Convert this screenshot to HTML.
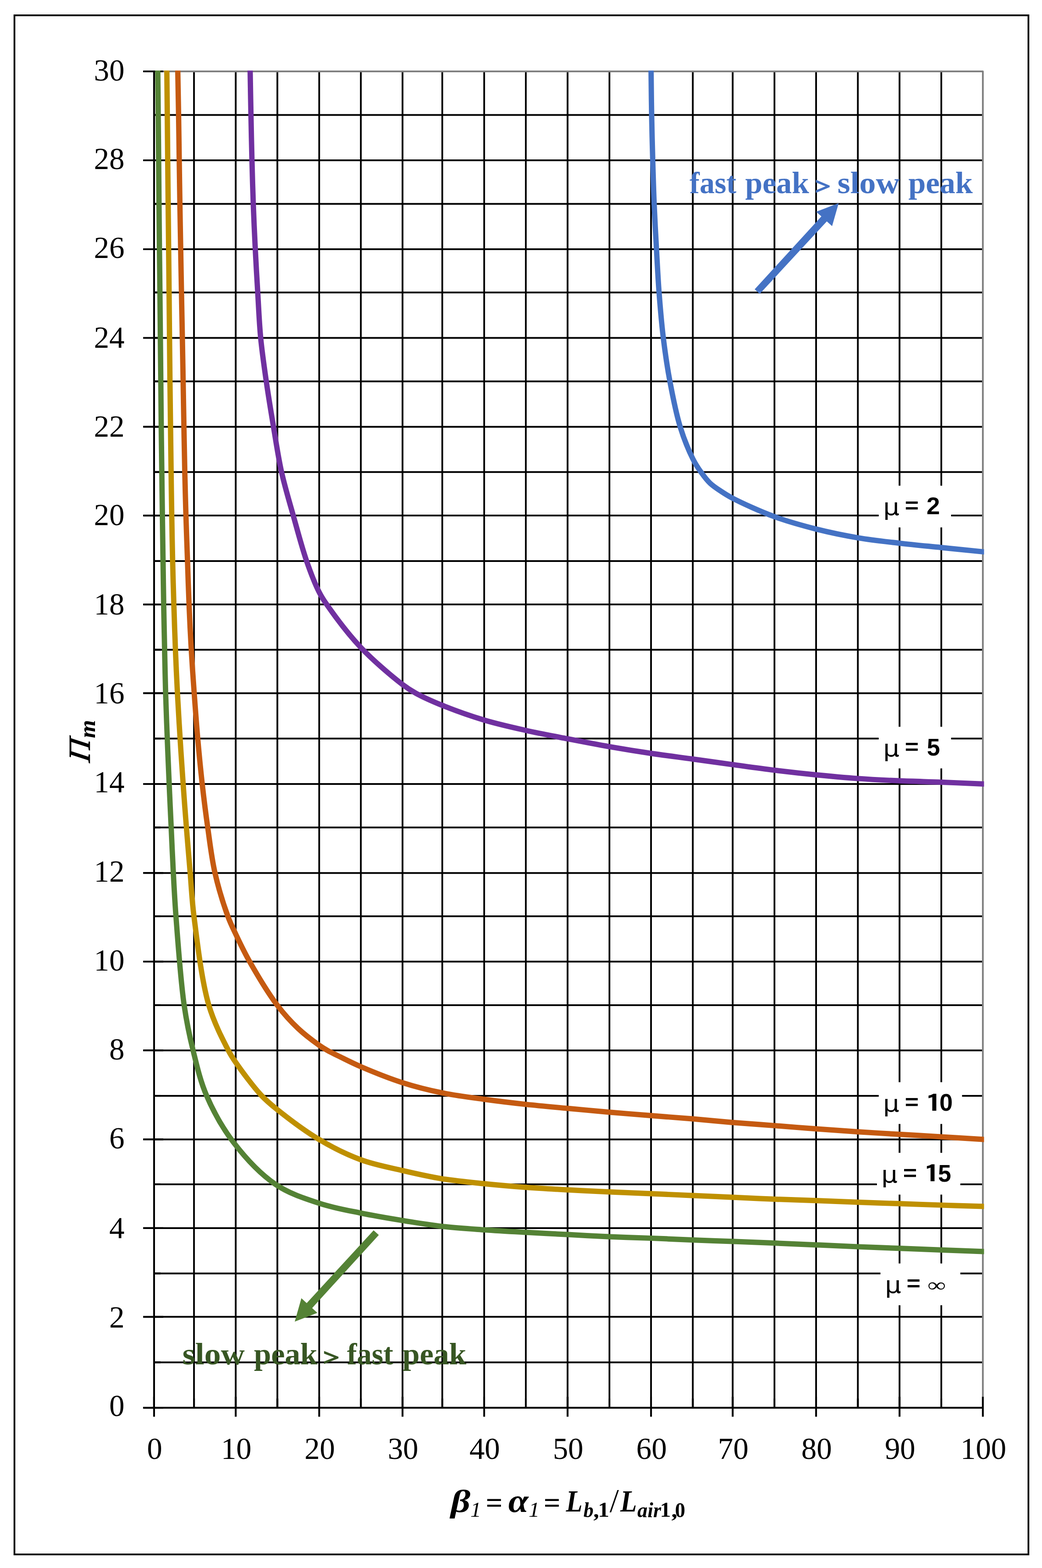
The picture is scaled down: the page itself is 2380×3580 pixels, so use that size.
<!DOCTYPE html>
<html lang="en"><head><meta charset="utf-8"><title>Pi_m versus beta_1 chart</title>
<style>html,body{margin:0;padding:0;background:#fff}svg{display:block}</style></head><body>
<svg width="2380" height="3580" viewBox="0 0 2380 3580" role="img" aria-label="Chart of Pi m versus beta 1 for several values of mu">
<rect x="0" y="0" width="2380" height="3580" fill="#fff"/>
<rect x="33" y="35" width="2316" height="3514" fill="none" stroke="#000" stroke-width="4"/>
<g stroke="#000" stroke-width="4.0" fill="none">
<path d="M351.9 3110.4H2243.4"/>
<path d="M351.9 3006.6H2243.4"/>
<path d="M351.9 2907.4H2243.4"/>
<path d="M351.9 2803.9H2243.4"/>
<path d="M351.9 2703.9H2243.4"/>
<path d="M351.9 2601.4H2243.4"/>
<path d="M351.9 2502H2243.4"/>
<path d="M351.9 2398.2H2243.4"/>
<path d="M351.9 2294.9H2243.4"/>
<path d="M351.9 2195.5H2243.4"/>
<path d="M351.9 2092H2243.4"/>
<path d="M351.9 1993.2H2243.4"/>
<path d="M351.9 1889.2H2243.4"/>
<path d="M351.9 1790H2243.4"/>
<path d="M351.9 1686.2H2243.4"/>
<path d="M351.9 1582.7H2243.4"/>
<path d="M351.9 1483.4H2243.4"/>
<path d="M351.9 1380.1H2243.4"/>
<path d="M351.9 1280.9H2243.4"/>
<path d="M351.9 1177.1H2243.4"/>
<path d="M351.9 1077.7H2243.4"/>
<path d="M351.9 974.4H2243.4"/>
<path d="M351.9 870.7H2243.4"/>
<path d="M351.9 771.5H2243.4"/>
<path d="M351.9 667.7H2243.4"/>
<path d="M351.9 569H2243.4"/>
<path d="M351.9 465.6H2243.4"/>
<path d="M351.9 366H2243.4"/>
<path d="M351.9 262.4H2243.4"/>
<path d="M443.1 164.5V3214.1"/>
<path d="M538.4 164.5V3214.1"/>
<path d="M633.5 164.5V3214.1"/>
<path d="M729.1 164.5V3214.1"/>
<path d="M824.2 164.5V3214.1"/>
<path d="M919.4 164.5V3214.1"/>
<path d="M1010.2 164.5V3214.1"/>
<path d="M1105.9 164.5V3214.1"/>
<path d="M1201 164.5V3214.1"/>
<path d="M1296.4 164.5V3214.1"/>
<path d="M1392 164.5V3214.1"/>
<path d="M1487 164.5V3214.1"/>
<path d="M1582.4 164.5V3214.1"/>
<path d="M1673.5 164.5V3214.1"/>
<path d="M1768.9 164.5V3214.1"/>
<path d="M1864 164.5V3214.1"/>
<path d="M1959.4 164.5V3214.1"/>
<path d="M2054.6 164.5V3214.1"/>
<path d="M2150 164.5V3214.1"/>
</g>
<path d="M351.9 163H2244.9V3214.1" fill="none" stroke="#808080" stroke-width="4" stroke-linejoin="round"/>
<g stroke="#000" stroke-width="4.2" fill="none">
<path d="M351.9 161V3216.1"/>
<path d="M326.9 3214.1H2247"/>
<path d="M326.9 3214.1H372.9"/>
<path d="M326.9 3006.6H372.9"/>
<path d="M326.9 2803.9H372.9"/>
<path d="M326.9 2601.4H372.9"/>
<path d="M326.9 2398.2H372.9"/>
<path d="M326.9 2195.5H372.9"/>
<path d="M326.9 1993.2H372.9"/>
<path d="M326.9 1790H372.9"/>
<path d="M326.9 1582.7H372.9"/>
<path d="M326.9 1380.1H372.9"/>
<path d="M326.9 1177.1H372.9"/>
<path d="M326.9 974.4H372.9"/>
<path d="M326.9 771.5H372.9"/>
<path d="M326.9 569H372.9"/>
<path d="M326.9 366H372.9"/>
<path d="M326.9 163H372.9"/>
<path d="M351.9 3110.4H366.9"/>
<path d="M351.9 2907.4H366.9"/>
<path d="M351.9 2703.9H366.9"/>
<path d="M351.9 2502H366.9"/>
<path d="M351.9 2294.9H366.9"/>
<path d="M351.9 2092H366.9"/>
<path d="M351.9 1889.2H366.9"/>
<path d="M351.9 1686.2H366.9"/>
<path d="M351.9 1483.4H366.9"/>
<path d="M351.9 1280.9H366.9"/>
<path d="M351.9 1077.7H366.9"/>
<path d="M351.9 870.7H366.9"/>
<path d="M351.9 667.7H366.9"/>
<path d="M351.9 465.6H366.9"/>
<path d="M351.9 262.4H366.9"/>
<path d="M351.9 3189.1V3234.6"/>
<path d="M538.4 3189.1V3234.6"/>
<path d="M729.1 3189.1V3234.6"/>
<path d="M919.4 3189.1V3234.6"/>
<path d="M1105.9 3189.1V3234.6"/>
<path d="M1296.4 3189.1V3234.6"/>
<path d="M1487 3189.1V3234.6"/>
<path d="M1673.5 3189.1V3234.6"/>
<path d="M1864 3189.1V3234.6"/>
<path d="M2054.6 3189.1V3234.6"/>
<path d="M2244.9 3189.1V3234.6"/>
<path d="M443.1 3193.1V3214.1"/>
<path d="M633.5 3193.1V3214.1"/>
<path d="M824.2 3193.1V3214.1"/>
<path d="M1010.2 3193.1V3214.1"/>
<path d="M1201 3193.1V3214.1"/>
<path d="M1392 3193.1V3214.1"/>
<path d="M1582.4 3193.1V3214.1"/>
<path d="M1768.9 3193.1V3214.1"/>
<path d="M1959.4 3193.1V3214.1"/>
<path d="M2150 3193.1V3214.1"/>
</g>
<rect x="2007" y="1108.9" width="165.4" height="95.3" fill="#fff"/>
<rect x="2007" y="1659.4" width="165.4" height="95" fill="#fff"/>
<rect x="2007.1" y="2470.8" width="190.3" height="95.4" fill="#fff"/>
<rect x="2002.9" y="2632.1" width="190.6" height="95.4" fill="#fff"/>
<rect x="2011" y="2884.7" width="182.5" height="95.4" fill="#fff"/>
<g font-family="Liberation Serif, serif" font-size="69.8" text-anchor="end">
<text x="284.4" y="183.6">30</text>
<text x="284.4" y="386.3">28</text>
<text x="284.4" y="588.8">26</text>
<text x="284.4" y="793.8">24</text>
<text x="284.4" y="996.5">22</text>
<text x="284.4" y="1199.4">20</text>
<text x="284.4" y="1402.7">18</text>
<text x="284.4" y="1606">16</text>
<text x="284.4" y="1809.3">14</text>
<text x="284.4" y="2013.2">12</text>
<text x="284.4" y="2216.2">10</text>
<text x="284.4" y="2418.7">8</text>
<text x="284.4" y="2622.3">6</text>
<text x="284.4" y="2827">4</text>
<text x="284.4" y="3030.5">2</text>
<text x="284.4" y="3233.3">0</text>
</g>
<g font-family="Liberation Serif, serif" font-size="69.8" text-anchor="middle">
<text x="353.1" y="3330.6">0</text>
<text x="539.6" y="3330.6">10</text>
<text x="730.3" y="3330.6">20</text>
<text x="920.6" y="3330.6">30</text>
<text x="1107.1" y="3330.6">40</text>
<text x="1297.6" y="3330.6">50</text>
<text x="1488.2" y="3330.6">60</text>
<text x="1674.7" y="3330.6">70</text>
<text x="1865.2" y="3330.6">80</text>
<text x="2055.8" y="3330.6">90</text>
<text x="2246.1" y="3330.6">100</text>
</g>
<text transform="matrix(0.6859 0 0 0.6900 1575.09 441.3)" font-family="Liberation Serif, serif" font-size="100" font-weight="bold" fill="#4472C4">fast</text>
<text transform="matrix(0.7104 0 0 0.6900 1702.01 441.3)" font-family="Liberation Serif, serif" font-size="100" font-weight="bold" fill="#4472C4">peak</text>
<text transform="matrix(0.6280 0 0 0.5320 1861.46 443.39)" font-family="Liberation Serif, serif" font-size="100" font-weight="bold" fill="#4472C4" stroke="#4472C4" stroke-width="3.5" stroke-linejoin="miter">&gt;</text>
<text transform="matrix(0.7531 0 0 0.6900 1912.64 441.3)" font-family="Liberation Serif, serif" font-size="100" font-weight="bold" fill="#4472C4">slow</text>
<text transform="matrix(0.7148 0 0 0.6900 2074.71 441.3)" font-family="Liberation Serif, serif" font-size="100" font-weight="bold" fill="#4472C4">peak</text>
<text transform="matrix(0.7531 0 0 0.6900 416.54 3115.1)" font-family="Liberation Serif, serif" font-size="100" font-weight="bold" fill="#375623">slow</text>
<text transform="matrix(0.7060 0 0 0.6900 579.92 3115.1)" font-family="Liberation Serif, serif" font-size="100" font-weight="bold" fill="#375623">peak</text>
<text transform="matrix(0.6581 0 0 0.5320 737.91 3117.19)" font-family="Liberation Serif, serif" font-size="100" font-weight="bold" fill="#375623" stroke="#375623" stroke-width="3.5" stroke-linejoin="miter">&gt;</text>
<text transform="matrix(0.6801 0 0 0.6900 792.39 3115.1)" font-family="Liberation Serif, serif" font-size="100" font-weight="bold" fill="#375623">fast</text>
<text transform="matrix(0.7109 0 0 0.6900 919.11 3115.1)" font-family="Liberation Serif, serif" font-size="100" font-weight="bold" fill="#375623">peak</text>
<text transform="matrix(0.5839 0 0 0.5285 2017.14 1175.93)" font-family="DejaVu Sans, sans-serif" font-size="100">μ</text>
<text transform="matrix(0.5420 0 0 0.4821 2066.8 1170.87)" font-family="Liberation Sans, sans-serif" font-size="100" font-weight="bold">=</text>
<text transform="matrix(0.5500 0 0 0.5530 2116.27 1173.9)" font-family="Liberation Sans, sans-serif" font-size="100" font-weight="bold">2</text>
<text transform="matrix(0.5839 0 0 0.5285 2017.14 1727.13)" font-family="DejaVu Sans, sans-serif" font-size="100">μ</text>
<text transform="matrix(0.5420 0 0 0.4821 2066.8 1722.07)" font-family="Liberation Sans, sans-serif" font-size="100" font-weight="bold">=</text>
<text transform="matrix(0.5414 0 0 0.5530 2117.04 1725.1)" font-family="Liberation Sans, sans-serif" font-size="100" font-weight="bold">5</text>
<text transform="matrix(0.5839 0 0 0.5285 2017.04 2538.03)" font-family="DejaVu Sans, sans-serif" font-size="100">μ</text>
<text transform="matrix(0.5420 0 0 0.4821 2066.7 2532.97)" font-family="Liberation Sans, sans-serif" font-size="100" font-weight="bold">=</text>
<text transform="matrix(0.8138 0 0 0.5270 2112.46 2537.84)" font-family="IPAGothic, sans-serif" font-size="100" font-weight="bold">1</text>
<text transform="matrix(0.5453 0 0 0.5530 2145.72 2536)" font-family="Liberation Sans, sans-serif" font-size="100" font-weight="bold">0</text>
<text transform="matrix(0.5839 0 0 0.5285 2013.04 2699.63)" font-family="DejaVu Sans, sans-serif" font-size="100">μ</text>
<text transform="matrix(0.5420 0 0 0.4821 2062.7 2694.57)" font-family="Liberation Sans, sans-serif" font-size="100" font-weight="bold">=</text>
<text transform="matrix(0.8046 0 0 0.5270 2108.75 2699.44)" font-family="IPAGothic, sans-serif" font-size="100" font-weight="bold">1</text>
<text transform="matrix(0.5394 0 0 0.5530 2142.55 2697.6)" font-family="Liberation Sans, sans-serif" font-size="100" font-weight="bold">5</text>
<text transform="matrix(0.5839 0 0 0.5285 2021.24 2951.93)" font-family="DejaVu Sans, sans-serif" font-size="100">μ</text>
<text transform="matrix(0.5420 0 0 0.4821 2070.8 2946.87)" font-family="Liberation Sans, sans-serif" font-size="100" font-weight="bold">=</text>
<text transform="matrix(0.5898 0 0 0.4421 2118.59 2949.02)" font-family="Liberation Serif, serif" font-size="100">∞</text>
<text transform="matrix(0.8800 0 0 0.7226 1029.44 3451.64)" font-family="Liberation Serif, serif" font-size="100" font-weight="bold" font-style="italic">β</text>
<text transform="matrix(0.4979 0 0 0.4773 1074.26 3463.2)" font-family="Liberation Serif, serif" font-size="100" font-style="italic">1</text>
<text transform="matrix(0.6753 0 0 0.6630 1109.52 3452.99)" font-family="Liberation Serif, serif" font-size="100" font-weight="bold">=</text>
<text transform="matrix(0.8308 0 0 0.7544 1161.06 3452.35)" font-family="Liberation Serif, serif" font-size="100" font-weight="bold" font-style="italic">α</text>
<text transform="matrix(0.5091 0 0 0.4773 1207.22 3463.2)" font-family="Liberation Serif, serif" font-size="100" font-style="italic">1</text>
<text transform="matrix(0.6731 0 0 0.6630 1241.63 3452.99)" font-family="Liberation Serif, serif" font-size="100" font-weight="bold">=</text>
<text transform="matrix(0.6183 0 0 0.7069 1292.86 3451.2)" font-family="Liberation Serif, serif" font-size="100" font-weight="bold" font-style="italic">L</text>
<text transform="matrix(0.4590 0 0 0.4894 1332.63 3463.71)" font-family="Liberation Serif, serif" font-size="100" font-weight="bold" font-style="italic">b</text>
<text transform="matrix(0.5474 0 0 0.4760 1357.33 3463.52)" font-family="Liberation Serif, serif" font-size="100" font-weight="bold" font-style="italic">,</text>
<text transform="matrix(0.5197 0 0 0.4773 1365.74 3463.2)" font-family="Liberation Serif, serif" font-size="100" font-weight="bold">1</text>
<text transform="matrix(0.5091 0 0 0.7627 1395.55 3452.34)" font-family="Liberation Serif, serif" font-size="100" font-weight="bold" font-style="italic">/</text>
<text transform="matrix(0.6218 0 0 0.7069 1416.67 3451.2)" font-family="Liberation Serif, serif" font-size="100" font-weight="bold" font-style="italic">L</text>
<text transform="matrix(0.4654 0 0 0.4769 1455.82 3463.72)" font-family="Liberation Serif, serif" font-size="100" font-weight="bold" font-style="italic">air</text>
<text transform="matrix(0.4952 0 0 0.4773 1507.54 3463.2)" font-family="Liberation Serif, serif" font-size="100" font-weight="bold">1</text>
<text transform="matrix(0.5737 0 0 0.4760 1535.39 3463.52)" font-family="Liberation Serif, serif" font-size="100" font-weight="bold" font-style="italic">,</text>
<text transform="matrix(0.4682 0 0 0.4770 1541.84 3463.72)" font-family="Liberation Serif, serif" font-size="100" font-weight="bold">0</text>
<text transform="matrix(0 -0.7315 0.6977 0.0951 205.1 1741.85)" font-family="Liberation Serif, serif" font-size="100" font-style="italic" stroke="#000" stroke-width="1.6">Π</text>
<text transform="matrix(0 -0.5338 0.5191 0.0000 217.1 1685.27)" font-family="Liberation Serif, serif" font-size="100" font-weight="bold" font-style="italic">m</text>
<polygon fill="#4472C4" points="1915.6,463.7 1864.2,483.4 1876.1,494.1 1723.7,660.5 1735.3,671 1888.5,505.5 1900.6,516.3"/>
<polygon fill="#548235" points="673.2,3017.4 688.4,2964.1 700.5,2975.2 853.4,2809 865.2,2819.8 713,2986.4 724.9,2997.5"/>
<clipPath id="pc"><rect x="349.9" y="161" width="1897.7" height="3055.1"/></clipPath>
<g clip-path="url(#pc)" fill="none" stroke-width="12.2" stroke-linejoin="round">
<path stroke="#4472C4" d="M1486.9 140C1486.97 147.67 1486.99 152.65 1487.1 163C1487.33 184.47 1487.78 228.58 1488.4 262C1489.04 296.29 1489.93 331.96 1490.9 366.2C1491.84 399.5 1492.7 431.33 1494.1 464.7C1495.55 499.22 1497.58 535.53 1499.5 570C1501.35 603.28 1502.86 635.04 1505.4 668.1C1508 701.99 1510.85 736.95 1515 770.9C1519.1 804.47 1523.8 837.25 1530.1 870.7C1536.56 905 1543.87 942.99 1553.5 974.2C1561.81 1001.11 1573.11 1028.79 1582.5 1047.6C1588.79 1060.2 1594.29 1068.36 1601 1077.8C1607.49 1086.92 1614.13 1095.95 1622 1103.4C1629.7 1110.7 1638.91 1116.43 1647.6 1122.2C1656.05 1127.81 1661.84 1131.63 1673.4 1137.6C1694.92 1148.71 1736.53 1167.79 1768.7 1179.6C1800.18 1191.16 1832.25 1199.92 1864.3 1208C1896.03 1216 1928.06 1222.52 1960 1227.9C1991.6 1233.23 2023.24 1236.5 2054.9 1240.2C2086.51 1243.9 2118.15 1246.83 2149.8 1250.1C2181.48 1253.37 2224.93 1257.79 2244.9 1259.8C2254.08 1260.72 2258.3 1261.13 2265 1261.8"/>
<path stroke="#7030A0" d="M571.1 140C571.2 147.67 571.24 152.65 571.4 163C571.74 184.49 572.53 228.76 573.2 262.2C573.89 296.41 574.61 331.74 575.5 366C576.38 399.6 577.25 432.25 578.5 465.8C579.77 499.94 581.38 535.06 583.1 569.1C584.79 602.41 586.68 634.59 588.7 667.9C590.77 702 592.1 737.31 595.4 771.4C598.64 804.89 603.39 837.28 608.2 870.7C613.13 904.93 618.89 939.88 624.7 974.4C630.52 1008.94 635.5 1043.89 643.1 1077.9C650.63 1111.61 660.58 1144.12 670 1177.6C679.62 1211.78 689.53 1249.91 700.3 1280.9C709.39 1307.05 719.93 1333.98 729 1352C734.95 1363.81 737.89 1368.22 746.2 1380.1C762.43 1403.32 795.59 1448.18 824.4 1478.6C853.39 1509.21 896.29 1545.27 919.7 1563.1C932.17 1572.6 937.88 1576.13 950 1582.8C966.43 1591.84 987.72 1601.34 1010.4 1610.5C1038.42 1621.81 1074.04 1634.53 1106.1 1644.1C1137.58 1653.5 1169.24 1660.48 1201 1667.6C1232.7 1674.71 1264.65 1680.61 1296.5 1686.8C1328.29 1692.98 1360.06 1699.14 1391.9 1704.7C1423.66 1710.24 1455.47 1715.36 1487.3 1720.1C1519.07 1724.83 1551.3 1728.78 1582.7 1733.1C1613.34 1737.31 1642.84 1741.52 1673.5 1745.7C1704.95 1749.99 1737.25 1754.59 1769.1 1758.5C1800.82 1762.39 1832.46 1765.93 1864.2 1769.1C1895.96 1772.27 1927.81 1775.23 1959.6 1777.5C1991.28 1779.76 2022.86 1781.3 2054.6 1782.7C2086.46 1784.1 2118.58 1784.71 2150.4 1785.9C2182.01 1787.08 2225.02 1788.99 2244.9 1789.8C2254.07 1790.17 2258.3 1790.33 2265 1790.6"/>
<path stroke="#C55A11" d="M405.8 140C405.9 147.67 405.94 152.65 406.1 163C406.44 184.49 407.35 228.76 407.9 262.2C408.46 296.41 408.89 331.74 409.4 366C409.9 399.59 410.36 432.25 410.9 465.8C411.45 499.94 412.09 535.05 412.7 569.1C413.29 602.4 413.87 634.58 414.5 667.9C415.14 702 415.86 737.26 416.5 771.4C417.13 804.84 417.71 837.23 418.3 870.7C418.91 904.92 419.47 939.96 420.1 974.5C420.73 1008.93 421.33 1043.52 422.1 1077.6C422.86 1111.11 423.68 1143.73 424.7 1177.3C425.74 1211.55 427.1 1246.91 428.3 1281.1C429.47 1314.49 430.39 1346.75 431.8 1380.1C433.24 1414.17 434.91 1449.3 436.9 1483.4C438.85 1516.89 441.16 1549.39 443.6 1582.9C446.09 1617.14 448.65 1652.16 451.7 1686.7C454.75 1721.19 458.06 1755.92 461.9 1790C465.67 1823.5 469.71 1856.06 474.5 1889.5C479.39 1923.65 483.31 1958.97 491 1992.8C498.64 2026.43 510.82 2065.89 520.4 2091.9C526.87 2109.47 532.15 2119.52 539.5 2135C548.32 2153.57 557.49 2173.15 570.2 2195.5C586.98 2225 612.78 2268.05 633.5 2295.4C649.56 2316.61 664.45 2332.7 681 2348.3C696.38 2362.79 716.49 2377.63 729 2386.5C736.53 2391.83 740.74 2394.32 747.8 2398.3C756.37 2403.13 766.06 2407.65 777 2413C790.86 2419.78 805.67 2427.48 824.4 2435.5C850.6 2446.72 888.46 2462.09 920.2 2472.2C950.44 2481.83 979.73 2489.05 1010.4 2495.3C1041.67 2501.67 1074.19 2505.53 1106.1 2509.9C1137.89 2514.26 1169.69 2518.05 1201.5 2521.5C1233.25 2524.95 1265.02 2527.63 1296.8 2530.6C1328.59 2533.57 1360.4 2536.53 1392.2 2539.3C1423.97 2542.07 1455.69 2544.65 1487.5 2547.2C1519.39 2549.75 1551.83 2551.94 1583.3 2554.6C1613.91 2557.19 1643.23 2560.36 1673.8 2562.9C1705.15 2565.5 1737.33 2567.58 1769.1 2570C1800.89 2572.42 1832.7 2575.05 1864.5 2577.4C1896.27 2579.75 1928.05 2582.01 1959.8 2584.1C1991.49 2586.18 2023.11 2588 2054.8 2589.9C2086.54 2591.8 2118.38 2593.58 2150.1 2595.5C2181.74 2597.41 2224.97 2600.19 2244.9 2601.4C2254.07 2601.96 2258.3 2602.2 2265 2602.6"/>
<path stroke="#BF9000" d="M381 140C381.03 147.67 381.03 152.65 381.1 163C381.26 184.49 381.77 228.76 382.1 262.2C382.44 296.41 382.76 331.74 383.1 366C383.43 399.59 383.75 432.25 384.1 465.8C384.45 499.94 384.85 535.05 385.2 569.1C385.55 602.4 385.87 634.58 386.2 667.9C386.54 702 386.86 737.26 387.2 771.4C387.53 804.84 387.82 837.23 388.2 870.7C388.59 904.92 389.07 939.96 389.5 974.5C389.93 1008.92 390.33 1043.52 390.8 1077.6C391.26 1111.11 391.72 1143.73 392.3 1177.3C392.89 1211.55 393.49 1246.91 394.3 1281.1C395.09 1314.49 396.05 1346.75 397.1 1380.1C398.18 1414.17 399.32 1449.29 400.7 1483.4C402.06 1516.88 403.54 1549.39 405.3 1582.9C407.1 1617.14 409.23 1652.15 411.4 1686.7C413.56 1721.18 415.88 1755.89 418.3 1790C420.68 1823.48 423.15 1856.03 425.8 1889.5C428.51 1923.62 431.5 1958.73 434.4 1992.8C437.24 2026.18 438.09 2053.13 443 2091.9C450.07 2147.66 460.54 2239.28 476.9 2294.8C489 2335.86 509.49 2374.97 521.5 2398.1C527.92 2410.46 530.61 2414.38 538.3 2425.5C551.52 2444.62 578.47 2481.17 596.5 2500.5C609.52 2514.46 617.79 2521.02 633.4 2533.5C657.45 2552.74 696.39 2582.39 729.1 2601.8C760.14 2620.22 791.99 2636.1 824.4 2648C855.73 2659.5 888.66 2665.37 920.2 2672.7C950.63 2679.77 979.78 2686.44 1010.4 2691.4C1041.72 2696.47 1074.2 2699.35 1106.1 2702.6C1137.9 2705.84 1169.69 2708.55 1201.5 2710.9C1233.26 2713.25 1265.02 2714.97 1296.8 2716.7C1328.59 2718.43 1360.41 2719.85 1392.2 2721.3C1423.97 2722.75 1455.69 2724.02 1487.5 2725.4C1519.39 2726.79 1551.82 2728.2 1583.3 2729.6C1613.9 2730.96 1643.24 2732.33 1673.8 2733.7C1705.16 2735.1 1737.32 2736.65 1769.1 2737.9C1800.89 2739.15 1832.71 2740.03 1864.5 2741.2C1896.28 2742.37 1928.06 2743.73 1959.8 2744.9C1991.49 2746.07 2023.11 2747.1 2054.8 2748.2C2086.54 2749.3 2118.37 2750.47 2150.1 2751.5C2181.74 2752.53 2224.97 2753.8 2244.9 2754.4C2254.08 2754.68 2258.3 2754.8 2265 2755"/>
<path stroke="#548235" d="M360.3 140C360.33 147.67 360.33 152.65 360.4 163C360.56 184.49 361.07 228.76 361.4 262.2C361.74 296.41 362.1 331.74 362.4 366C362.7 399.59 362.9 432.25 363.2 465.8C363.5 499.94 363.85 535.05 364.2 569.1C364.55 602.4 364.95 634.58 365.3 667.9C365.65 702 365.96 737.26 366.3 771.4C366.63 804.84 366.97 837.23 367.3 870.7C367.64 904.92 367.92 939.96 368.3 974.5C368.68 1008.93 369.16 1043.52 369.6 1077.6C370.03 1111.11 370.44 1143.73 370.9 1177.3C371.37 1211.55 371.89 1246.91 372.4 1281.1C372.89 1314.49 373.31 1346.75 373.9 1380.1C374.5 1414.17 375.26 1449.29 376 1483.4C376.73 1516.88 377.3 1549.39 378.3 1582.9C379.32 1617.14 380.75 1652.14 382.1 1686.7C383.45 1721.18 384.9 1755.91 386.4 1790C387.87 1823.43 389.43 1855.86 391 1889.3C392.6 1923.44 394.06 1958.68 395.9 1992.8C397.7 2026.2 398.93 2053.04 401.9 2091.9C406.15 2147.57 412.49 2238.65 420.6 2294.8C426.43 2335.17 432.55 2363.92 441 2398.1C449.52 2432.59 457.09 2467.03 471.6 2500.8C487.19 2537.1 507.84 2574.88 533.3 2608.1C559.97 2642.9 594.66 2680.49 629.4 2704.1C660.47 2725.21 695.75 2736.25 729.1 2747.3C760.76 2757.79 792.5 2763.13 824.4 2769.7C856.2 2776.25 888.71 2781.59 920.2 2786.7C950.68 2791.65 979.83 2796.49 1010.4 2800C1041.77 2803.6 1074.21 2805.61 1106.1 2807.9C1137.91 2810.18 1169.7 2811.9 1201.5 2813.7C1233.27 2815.5 1265.02 2817.03 1296.8 2818.7C1328.59 2820.37 1360.4 2822.32 1392.2 2823.7C1423.97 2825.08 1455.69 2825.77 1487.5 2827C1519.39 2828.23 1551.82 2829.85 1583.3 2831.1C1613.89 2832.31 1643.24 2833.23 1673.8 2834.4C1705.16 2835.6 1737.33 2836.88 1769.1 2838.2C1800.89 2839.52 1832.71 2840.92 1864.5 2842.3C1896.28 2843.68 1928.06 2845.18 1959.8 2846.5C1991.49 2847.82 2023.11 2848.97 2054.8 2850.2C2086.54 2851.43 2118.37 2852.7 2150.1 2853.9C2181.74 2855.1 2224.97 2856.69 2244.9 2857.4C2254.07 2857.73 2258.3 2857.87 2265 2858.1"/>
</g>
</svg></body></html>
